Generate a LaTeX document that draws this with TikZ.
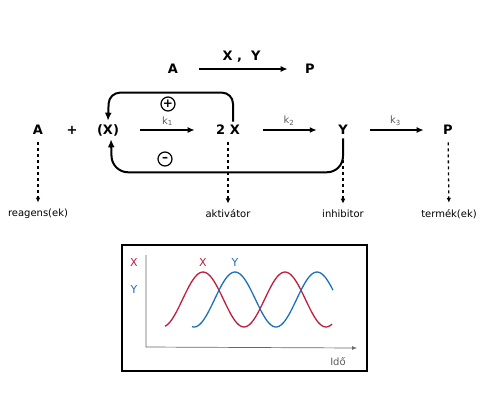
\documentclass[tikz,border=0pt]{standalone}
\usepackage{fontspec}
\usetikzlibrary{arrows.meta}
\setmainfont{DejaVu Sans}
\definecolor{xred}{RGB}{190,30,60}
\definecolor{yblue}{RGB}{30,110,185}
\definecolor{kgray}{RGB}{90,90,90}
\tikzset{
  species/.style={font=\fontsize{13}{15}\selectfont\bfseries},
  role/.style={font=\fontsize{10}{12}\selectfont},
  rxn/.style={line width=2pt,-{Latex[length=7pt,width=6pt]},shorten <=18pt,shorten >=18pt},
  klabel/.style={midway,above,text=kgray,font=\fontsize{10}{12}\selectfont},
  fbloop/.style={line width=2pt,-{Latex[length=8pt,width=7pt]}},
  sign/.style={circle,draw,line width=1.2pt,minimum size=14pt,inner sep=0pt,font=\fontsize{12}{12}\selectfont\bfseries},
  thinrole/.style={dashed,line width=1.3pt,-{Latex[length=5pt,width=4.5pt]},shorten <=4pt,shorten >=3pt},
  thickrole/.style={dashed,line width=2.2pt,-{Latex[length=5pt,width=5pt]},shorten <=4pt,shorten >=3pt},
  curve/.style={line width=1.3pt},
  axis/.style={line width=0.7pt,black!60}
}
\begin{document}
\begin{tikzpicture}[x=1pt,y=-1pt]
\useasboundingbox (0,0) rectangle (498,400);
        %overall reaction
        \node[species] (tA) at (173,69) {A};
        \node[species] (tP) at (310,69) {P};
        \draw[line width=2.5pt,-{Latex[length=7pt,width=6pt]},shorten <=17pt,shorten >=14pt](tA)--(tP)
            node[midway,above=2pt,species]{X ,~~Y};
        %steps
        \node[species] (nA) at (38,130) {A};
        \node[species] (nplus) at (72,130) {+};
        \node[species] (nX) at (108,130) {(X)};
        \node[species] (n2X) at (228,130) {2 X};
        \node[species] (nY) at (343,130) {Y};
        \node[species] (nP) at (448,130) {P};
        \draw[rxn](nX)--(n2X) node[klabel]{k\textsubscript{1}};
        \draw[rxn,shorten <=20pt](n2X)--(nY) node[klabel]{k\textsubscript{2}};
        \draw[rxn,shorten <=19pt,shorten >=16pt](nY)--(nP) node[klabel]{k\textsubscript{3}};
        %feedback
        \draw[fbloop,rounded corners=11pt]([xshift=5pt]n2X.north)--++(0,-29)--++(-124,0)--(nX.north);
        \draw[fbloop,rounded corners=16pt](nY.south)--++(0,34)--++(-231,0)--([xshift=3pt]nX.south);
        \node[sign] (pos) at (168,104) {+};
        \node[sign] (neg) at (165,159) {–};
        %roles
        \node[role] (lbA) at (38,214) {reagens(ek)};
        \node[role] (lbX) at (228,214) {aktivátor};
        \node[role] (lbY) at (343,214) {inhibitor};
        \node[role] (lbP) at (449,214) {termék(ek)};
        \draw[thinrole](nA)--(lbA);
        \draw[thickrole](n2X)--(lbX);
        \draw[thickrole](nY)--(lbY);
        \draw[thinrole](nP)--(lbP);
        %graph
        \draw[line width=1.6pt](122,245) rectangle (367,371);
        \coordinate (origo) at (146,347);
        \draw[axis,-latex](146,255)--(origo)--(357,348);
        \draw[curve,xred] plot[domain=165:332,samples=90,smooth] (\x,{299.5-27.5*cos((\x-203)/82*360)});
        \draw[curve,yblue] plot[domain=192:333,samples=90,smooth] (\x,{299.5-27.5*cos((\x-235)/82*360)});
        \node[role,text=xred,font=\fontsize{11}{13}\selectfont] (gX) at (134,262) {X};
        \node[role,text=yblue,font=\fontsize{11}{13}\selectfont] (gY) at (134,289) {Y};
        \node[role,text=xred,font=\fontsize{11}{13}\selectfont] (cX) at (203,262) {X};
        \node[role,text=yblue,font=\fontsize{11}{13}\selectfont] (cY) at (235,262) {Y};
        \node[role,text=kgray] (ido) at (338,362) {Idő};
\end{tikzpicture}
\end{document}
